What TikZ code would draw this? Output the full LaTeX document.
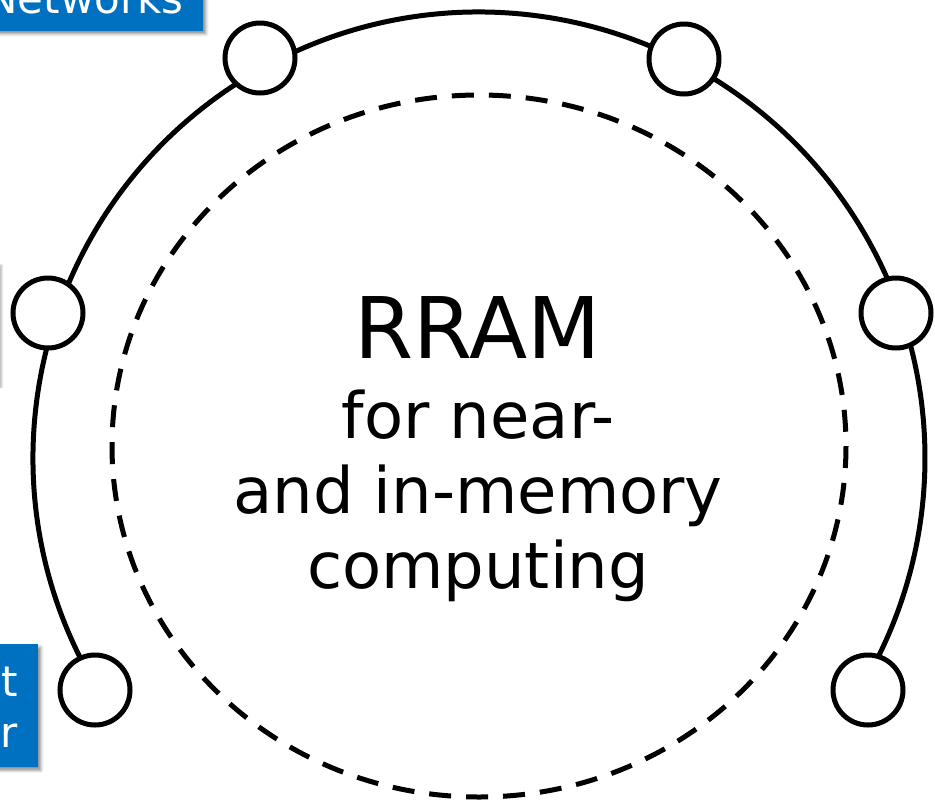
\documentclass[tikz,border=0pt]{standalone}
\usepackage{fontspec}
\setmainfont{DejaVu Sans}
\usetikzlibrary{positioning,shadows.blur}
\definecolor{pptblue}{RGB}{0,112,192}
\tikzset{port/.style={draw=black,line width=5pt,circle,fill=white,minimum size=70pt,inner sep=0pt},ring/.style={line width=5pt},core/.style={line width=5pt,dash pattern=on 22pt off 15pt},tag/.style={fill=pptblue,inner sep=0pt,blur shadow={shadow xshift=3pt,shadow yshift=-3pt,shadow blur radius=3pt,shadow opacity=45}},lighttag/.style={tag,fill=white,blur shadow={shadow xshift=3pt,shadow yshift=-3pt,shadow blur radius=2pt,shadow opacity=15}},tagtext/.style={text=white,font=\fontsize{42}{51}\selectfont,inner sep=0pt,align=right},bigtxt/.style={font=\fontsize{85}{100}\selectfont,inner sep=0pt},subtxt/.style={font=\fontsize{64}{75}\selectfont,inner sep=0pt,align=center}}

\begin{document}
\begin{tikzpicture}[x=1pt,y=-1pt]
\useasboundingbox (0,0) rectangle (935,807);
\coordinate (c) at (479,458);
\coordinate (d) at (479,446);
\draw[core] (d) ellipse [x radius=367,y radius=351];
\draw[ring] (c) ++(148.9:446) arc[start angle=148.9,end angle=390.8,radius=446];
\node[port] (p1) at (95,690) {};
\node[port] (p2) at (48,313) {};
\node[port] (p3) at (260,58) {};
\node[port] (p4) at (684,59) {};
\node[port] (p5) at (896,313) {};
\node[port] (p6) at (868,690) {};
\node[bigtxt,anchor=base] (title) at (478,358) {RRAM};
\node[subtxt,anchor=base] (sub) at (478,588) {for near-\\and in-memory\\computing};
\node[tag,minimum width=400pt,minimum height=120pt,anchor=south east] (netbox) at (203,31) {};
\node[tagtext,anchor=base east] (nettext) at (184,13) {Networks};
\node[lighttag,minimum width=300pt,minimum height=122pt,anchor=east] (midbox) at (-1,323) {};
\node[tag,minimum width=300pt,minimum height=123pt,anchor=north east] (lowbox) at (38,644) {};
\node[tagtext,anchor=base east] (lowtext) at (18,747) {t\\r};
\end{tikzpicture}
\end{document}
